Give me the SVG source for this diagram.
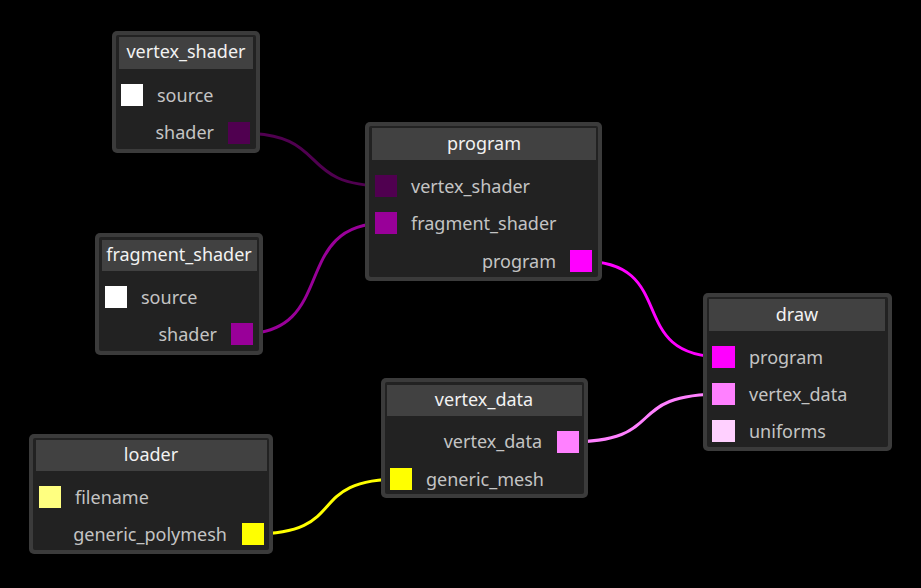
<svg xmlns="http://www.w3.org/2000/svg" width="921" height="588" viewBox="0 0 921 588">
<style>
.frame{fill:#3b3b3b}
.body{fill:#222222}
.title{fill:#414141}
.tt{font-family:"Noto Sans","Open Sans",sans-serif;font-size:18px;fill:#f2f2f2;text-anchor:middle}
.lb{font-family:"Noto Sans","Open Sans",sans-serif;font-size:18px;fill:#c4c4c4}
.r{text-anchor:end}
.w{fill:none;stroke-width:3}
</style>
<rect width="921" height="588" fill="#000"/>
<g id="connectors">
<path class="w" stroke="#500050" d="M240,133 C333,133 294,186 386,186"/>
<path class="w" stroke="#990099" d="M242,334 C340,334 288,223 386,223"/>
<path class="w" stroke="#ff00ff" d="M581,261 C682,261 622,357 723,357"/>
<path class="w" stroke="#ff80ff" d="M568,442 C672,442 619,394 723,394"/>
<path class="w" stroke="#ffff00" d="M253,534 C352,534 302,479 401,479"/>
</g>
<g id="vertex_shader">
<rect class="frame" x="112" y="31" width="148" height="122" rx="5"/>
<rect class="body" x="116" y="35" width="140" height="114" rx="2"/>
<rect class="title" x="119" y="37" width="134" height="32"/>
<text class="tt" x="186" y="58">vertex_shader</text>
<rect x="121" y="84" width="22" height="22" fill="#ffffff"/>
<text class="lb" x="157" y="102">source</text>
<rect x="228" y="122" width="22" height="22" fill="#500050"/>
<text class="lb r" x="214" y="139">shader</text>
</g>
<g id="fragment_shader">
<rect class="frame" x="95" y="233" width="168" height="122" rx="5"/>
<rect class="body" x="99" y="237" width="160" height="114" rx="2"/>
<rect class="title" x="102" y="240" width="155" height="31"/>
<text class="tt" x="179" y="261">fragment_shader</text>
<rect x="105" y="286" width="22" height="22" fill="#ffffff"/>
<text class="lb" x="141" y="304">source</text>
<rect x="231" y="323" width="22" height="22" fill="#990099"/>
<text class="lb r" x="217" y="341">shader</text>
</g>
<g id="program">
<rect class="frame" x="365" y="122" width="237" height="159" rx="5"/>
<rect class="body" x="369" y="126" width="229" height="151" rx="2"/>
<rect class="title" x="372" y="128" width="224" height="32"/>
<text class="tt" x="484" y="150">program</text>
<rect x="375" y="175" width="22" height="22" fill="#500050"/>
<text class="lb" x="411" y="193">vertex_shader</text>
<rect x="375" y="212" width="22" height="22" fill="#990099"/>
<text class="lb" x="411" y="230">fragment_shader</text>
<rect x="570" y="250" width="22" height="22" fill="#ff00ff"/>
<text class="lb r" x="556" y="268">program</text>
</g>
<g id="draw">
<rect class="frame" x="703" y="293" width="189" height="158" rx="5"/>
<rect class="body" x="707" y="297" width="181" height="150" rx="2"/>
<rect class="title" x="709" y="299" width="176" height="32"/>
<text class="tt" x="797" y="321">draw</text>
<rect x="712" y="346" width="23" height="22" fill="#ff00ff"/>
<text class="lb" x="749" y="364">program</text>
<rect x="712" y="383" width="23" height="22" fill="#ff80ff"/>
<text class="lb" x="749" y="401">vertex_data</text>
<rect x="712" y="420" width="23" height="22" fill="#ffd0ff"/>
<text class="lb" x="749" y="438">uniforms</text>
</g>
<g id="vertex_data">
<rect class="frame" x="381" y="378" width="207" height="120" rx="5"/>
<rect class="body" x="385" y="382" width="199" height="112" rx="2"/>
<rect class="title" x="387" y="385" width="195" height="31"/>
<text class="tt" x="484" y="406">vertex_data</text>
<rect x="557" y="431" width="22" height="22" fill="#ff80ff"/>
<text class="lb r" x="542" y="448">vertex_data</text>
<rect x="390" y="468" width="22" height="22" fill="#ffff00"/>
<text class="lb" x="426" y="486">generic_mesh</text>
</g>
<g id="loader">
<rect class="frame" x="29" y="434" width="244" height="120" rx="5"/>
<rect class="body" x="33" y="438" width="236" height="112" rx="2"/>
<rect class="title" x="36" y="440" width="231" height="31"/>
<text class="tt" x="151" y="461">loader</text>
<rect x="39" y="486" width="22" height="22" fill="#ffff80"/>
<text class="lb" x="75" y="504">filename</text>
<rect x="242" y="523" width="22" height="22" fill="#ffff00"/>
<text class="lb r" x="227" y="541">generic_polymesh</text>
</g>
</svg>
